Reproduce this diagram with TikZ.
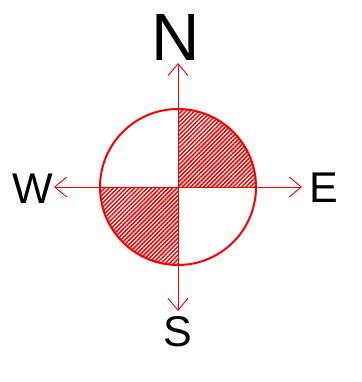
\documentclass[tikz,border=0pt]{standalone}
\usepackage{fontspec}
\setmainfont{Liberation Sans}
\usetikzlibrary{arrows.meta,positioning,patterns.meta}
\definecolor{compassred}{RGB}{255,0,0}

\tikzset{
  dirarrow/.style={draw=compassred, line width=0.9pt, -{Straight Barb[length=12pt,width=20pt,line width=0.9pt]}},
  hatched/.style={pattern={Lines[angle=45,distance=3pt,line width=1.5pt]}, pattern color=compassred},
  dirlabel/.style={inner sep=1pt, font=\fontsize{43}{43}\selectfont},
}

\begin{document}
\begin{tikzpicture}[x=1pt, y=1pt]
  \useasboundingbox (0,0) rectangle (361,382);
  % Centre and arrow tips
  \coordinate (c) at (178,195);
  \coordinate (ntip) at (178,319);
  \coordinate (stip) at (178,71);
  \coordinate (wtip) at (54,195);
  \coordinate (etip) at (302,195);
  % Hatched quadrants
  \fill[hatched] (c) -- ++(78,0) arc (0:90:78) -- cycle;
  \fill[hatched] (c) -- ++(-78,0) arc (180:270:78) -- cycle;
  % Circle
  \node[draw=compassred, line width=2pt, circle, minimum size=156pt, inner sep=0pt] (rose) at (c) {};
  % Direction arrows
  \draw[dirarrow] (c) -- (ntip);
  \draw[dirarrow] (c) -- (stip);
  \draw[dirarrow] (c) -- (wtip);
  \draw[dirarrow] (c) -- (etip);
  % Labels
  \node[dirlabel, anchor=south, font=\fontsize{67}{67}\selectfont] (north) at ([xshift=-2pt,yshift=1pt]ntip) {N};
  \node[dirlabel, anchor=north, inner sep=4pt] (south) at ([yshift=-1pt]stip) {S};
  \node[dirlabel, anchor=east] (west) at ([yshift=-2pt]wtip) {W};
  \node[dirlabel, anchor=west, inner sep=7pt] (east) at ([yshift=-1pt]etip) {E};
\end{tikzpicture}
\end{document}
